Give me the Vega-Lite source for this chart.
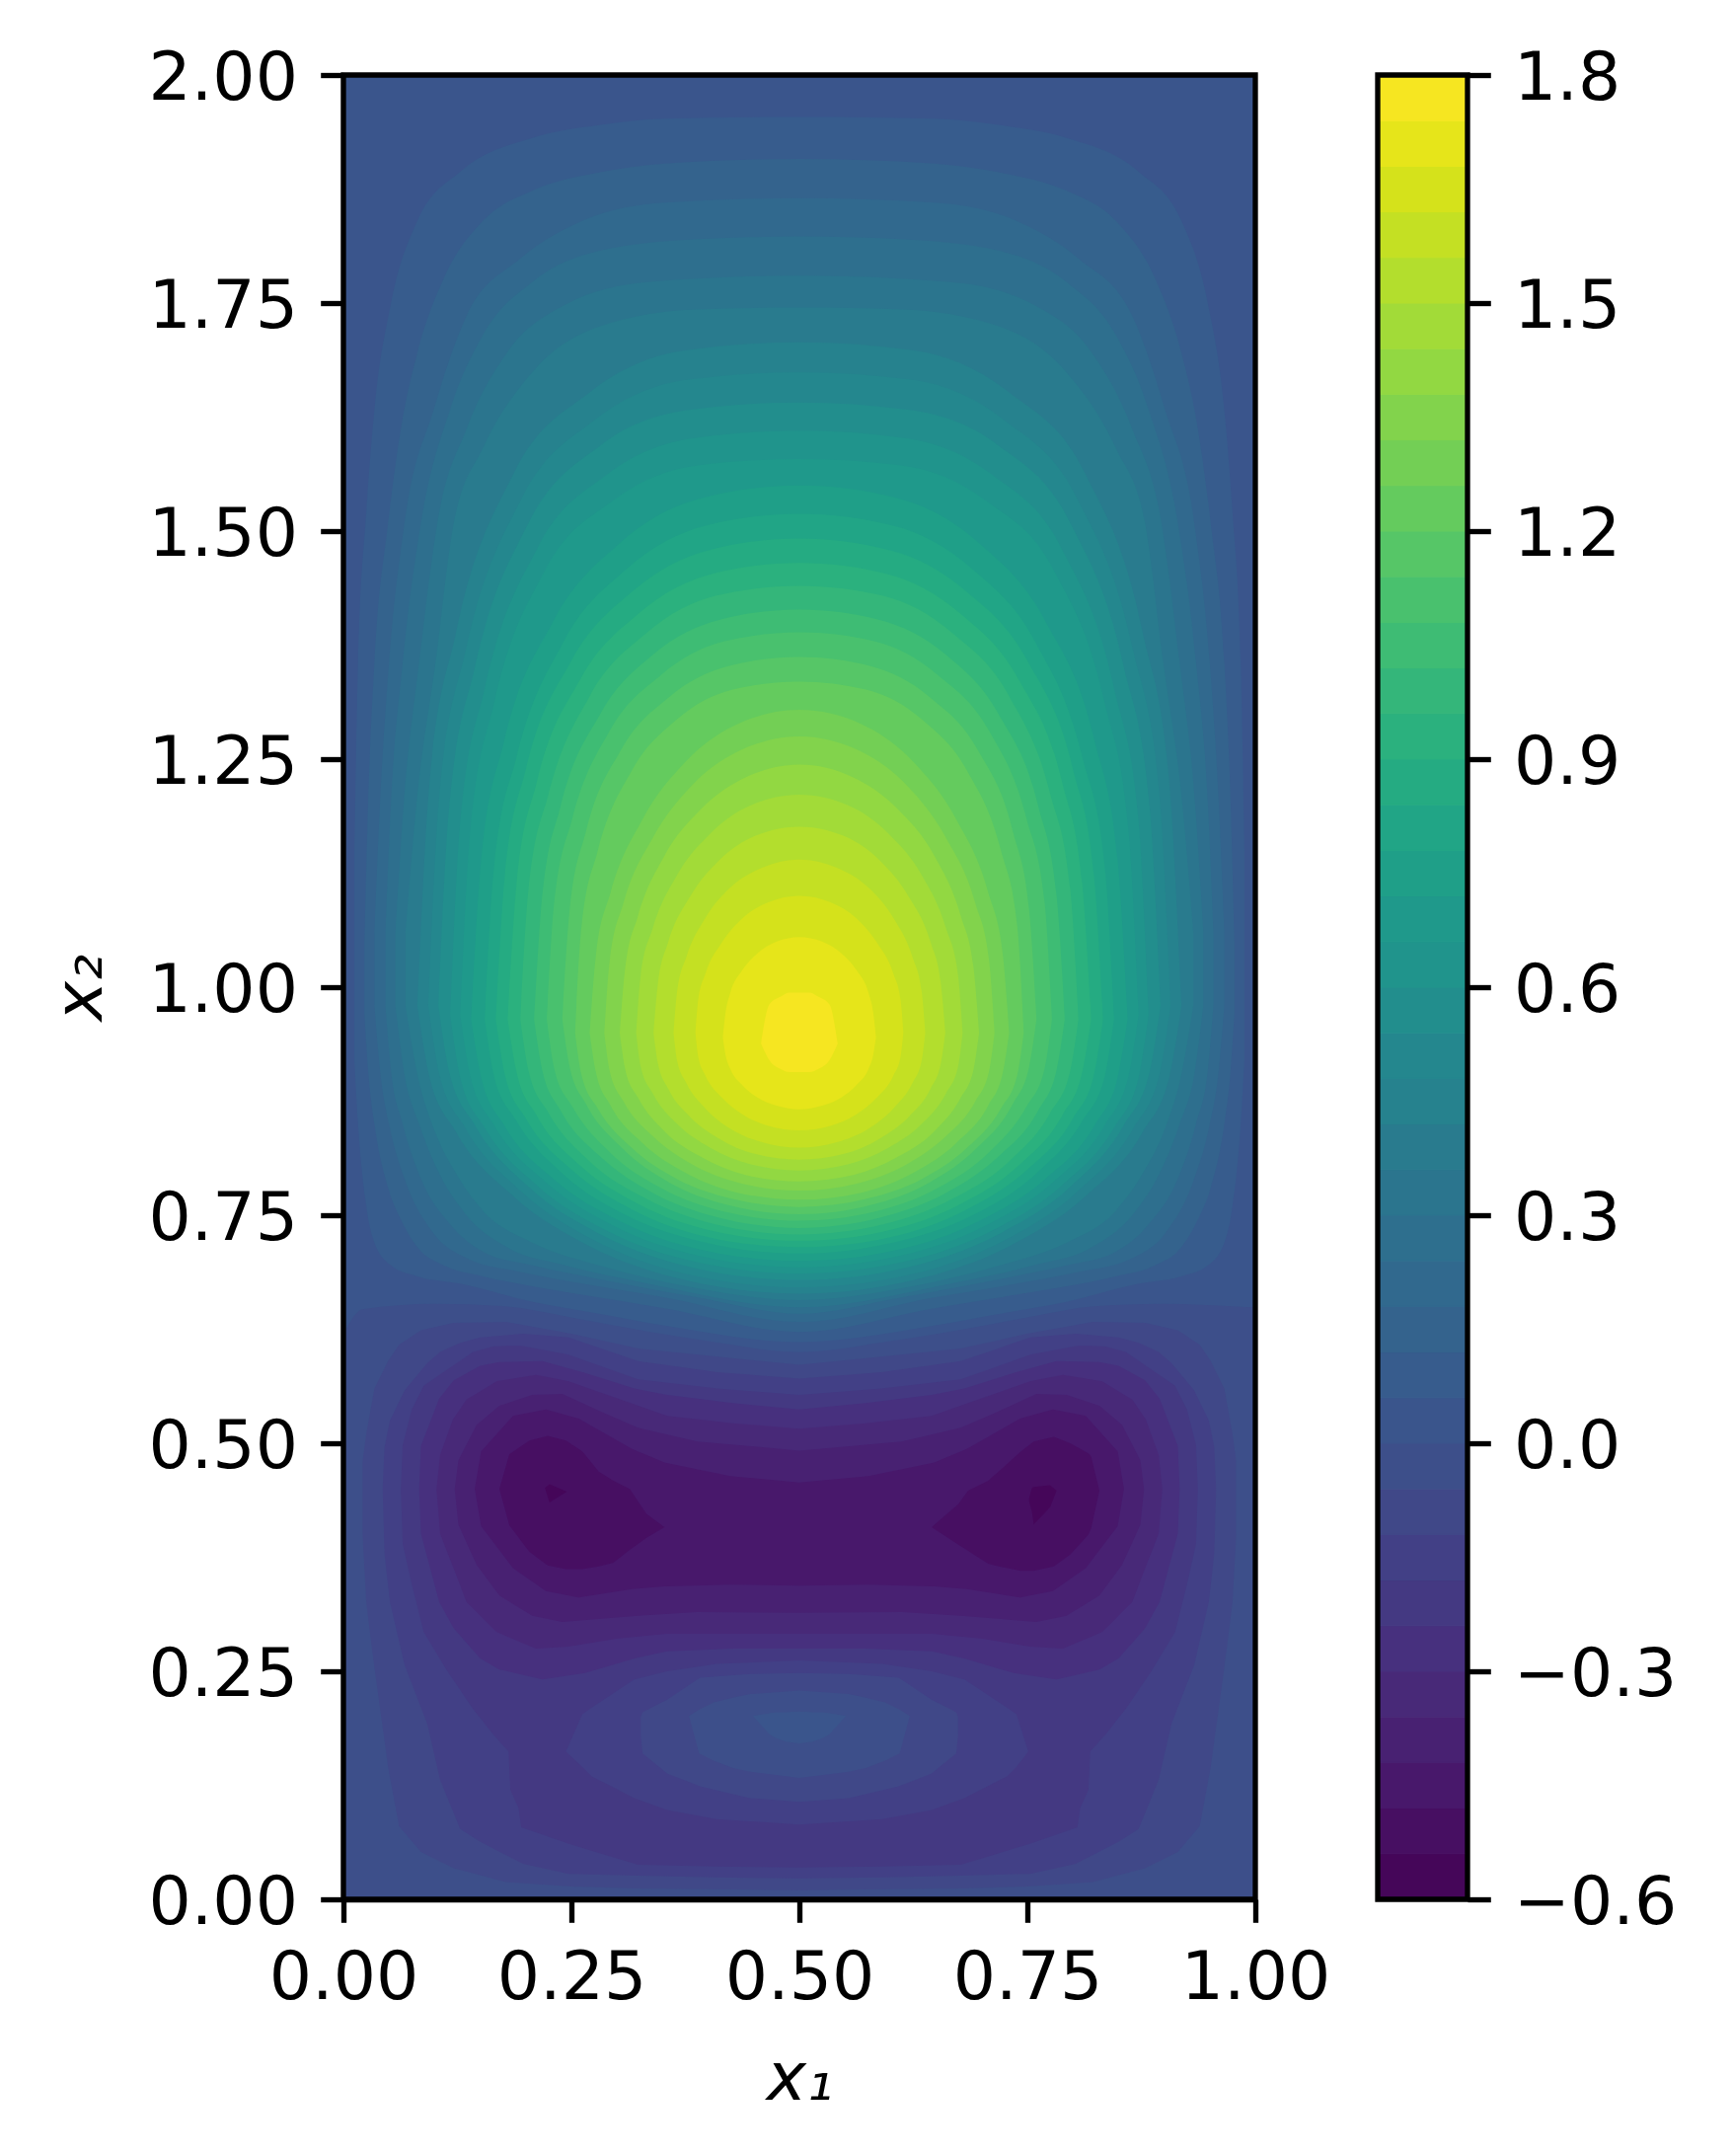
{"$schema":"https://vega.github.io/schema/vega-lite/v6.json","background":"white","padding":{"left":48,"top":46,"right":0,"bottom":40},"bounds":"flush","spacing":124,"config":{"view":{"stroke":null},"axis":{"labelFont":"DejaVu Sans","titleFont":"DejaVu Sans","labelFontSize":68,"titleFontSize":68,"titleFontWeight":"normal","titleFontStyle":"italic","labelColor":"black","titleColor":"black","domain":true,"domainColor":"black","domainWidth":5.33,"tickColor":"black","tickWidth":5.33,"tickSize":23.3,"labelPadding":23.3,"grid":false,"labelOverlap":false,"labelFlush":false,"labelBound":false}},"hconcat":[{"width":924,"height":1848,"layer":[{"data":{"values":[
{"g":0,"z":-0.03,"x":0,"y":0,"h":2},{"g":0,"z":-0.03,"x":1,"y":0,"h":2},
{"g":1,"z":0.03,"x":0,"y":0.62,"h":2},{"g":1,"z":0.03,"x":0.021,"y":0.647,"h":2},{"g":1,"z":0.03,"x":0.1,"y":0.653,"h":2},{"g":1,"z":0.03,"x":0.18,"y":0.65,"h":2},{"g":1,"z":0.03,"x":0.24,"y":0.64,"h":2},{"g":1,"z":0.03,"x":0.32,"y":0.625,"h":2},{"g":1,"z":0.03,"x":0.4,"y":0.612,"h":2},{"g":1,"z":0.03,"x":0.5,"y":0.6,"h":2},{"g":1,"z":0.03,"x":0.6,"y":0.612,"h":2},{"g":1,"z":0.03,"x":0.68,"y":0.625,"h":2},{"g":1,"z":0.03,"x":0.76,"y":0.64,"h":2},{"g":1,"z":0.03,"x":0.82,"y":0.65,"h":2},{"g":1,"z":0.03,"x":0.9,"y":0.653,"h":2},{"g":1,"z":0.03,"x":0.979,"y":0.65,"h":2},{"g":1,"z":0.03,"x":1,"y":0.649,"h":2},
{"g":2,"z":0.09,"x":0.012,"y":0.92,"h":1.15},{"g":2,"z":0.09,"x":0.016,"y":0.85,"h":1.356},{"g":2,"z":0.09,"x":0.025,"y":0.76,"h":1.52},{"g":2,"z":0.09,"x":0.034,"y":0.72,"h":1.633},{"g":2,"z":0.09,"x":0.052,"y":0.695,"h":1.749},{"g":2,"z":0.09,"x":0.081,"y":0.683,"h":1.84},{"g":2,"z":0.09,"x":0.128,"y":0.675,"h":1.894},{"g":2,"z":0.09,"x":0.207,"y":0.655,"h":1.931},{"g":2,"z":0.09,"x":0.28,"y":0.642,"h":1.945},{"g":2,"z":0.09,"x":0.352,"y":0.629,"h":1.952},{"g":2,"z":0.09,"x":0.5,"y":0.611,"h":1.954},{"g":2,"z":0.09,"x":0.648,"y":0.629,"h":1.952},{"g":2,"z":0.09,"x":0.72,"y":0.642,"h":1.945},{"g":2,"z":0.09,"x":0.793,"y":0.655,"h":1.931},{"g":2,"z":0.09,"x":0.872,"y":0.675,"h":1.894},{"g":2,"z":0.09,"x":0.919,"y":0.683,"h":1.84},{"g":2,"z":0.09,"x":0.948,"y":0.695,"h":1.749},{"g":2,"z":0.09,"x":0.966,"y":0.72,"h":1.633},{"g":2,"z":0.09,"x":0.975,"y":0.76,"h":1.52},{"g":2,"z":0.09,"x":0.984,"y":0.85,"h":1.356},{"g":2,"z":0.09,"x":0.988,"y":0.92,"h":1.15},
{"g":3,"z":0.15,"x":0.023,"y":0.97,"h":1.05},{"g":3,"z":0.15,"x":0.027,"y":0.91,"h":1.2},{"g":3,"z":0.15,"x":0.034,"y":0.85,"h":1.356},{"g":3,"z":0.15,"x":0.049,"y":0.78,"h":1.509},{"g":3,"z":0.15,"x":0.063,"y":0.745,"h":1.612},{"g":3,"z":0.15,"x":0.081,"y":0.715,"h":1.695},{"g":3,"z":0.15,"x":0.11,"y":0.695,"h":1.777},{"g":3,"z":0.15,"x":0.153,"y":0.683,"h":1.84},{"g":3,"z":0.15,"x":0.207,"y":0.672,"h":1.873},{"g":3,"z":0.15,"x":0.28,"y":0.66,"h":1.893},{"g":3,"z":0.15,"x":0.352,"y":0.648,"h":1.903},{"g":3,"z":0.15,"x":0.5,"y":0.622,"h":1.908},{"g":3,"z":0.15,"x":0.648,"y":0.648,"h":1.903},{"g":3,"z":0.15,"x":0.72,"y":0.66,"h":1.893},{"g":3,"z":0.15,"x":0.793,"y":0.672,"h":1.873},{"g":3,"z":0.15,"x":0.847,"y":0.683,"h":1.84},{"g":3,"z":0.15,"x":0.89,"y":0.695,"h":1.777},{"g":3,"z":0.15,"x":0.919,"y":0.715,"h":1.695},{"g":3,"z":0.15,"x":0.937,"y":0.745,"h":1.612},{"g":3,"z":0.15,"x":0.951,"y":0.78,"h":1.509},{"g":3,"z":0.15,"x":0.966,"y":0.85,"h":1.356},{"g":3,"z":0.15,"x":0.973,"y":0.91,"h":1.2},{"g":3,"z":0.15,"x":0.977,"y":0.97,"h":1.05},
{"g":4,"z":0.21,"x":0.034,"y":0.98,"h":1.06},{"g":4,"z":0.21,"x":0.04,"y":0.91,"h":1.2},{"g":4,"z":0.21,"x":0.05,"y":0.85,"h":1.356},{"g":4,"z":0.21,"x":0.067,"y":0.79,"h":1.509},{"g":4,"z":0.21,"x":0.099,"y":0.73,"h":1.633},{"g":4,"z":0.21,"x":0.135,"y":0.703,"h":1.736},{"g":4,"z":0.21,"x":0.193,"y":0.688,"h":1.798},{"g":4,"z":0.21,"x":0.262,"y":0.675,"h":1.84},{"g":4,"z":0.21,"x":0.352,"y":0.66,"h":1.86},{"g":4,"z":0.21,"x":0.5,"y":0.633,"h":1.865},{"g":4,"z":0.21,"x":0.648,"y":0.66,"h":1.86},{"g":4,"z":0.21,"x":0.738,"y":0.675,"h":1.84},{"g":4,"z":0.21,"x":0.807,"y":0.688,"h":1.798},{"g":4,"z":0.21,"x":0.865,"y":0.703,"h":1.736},{"g":4,"z":0.21,"x":0.901,"y":0.73,"h":1.633},{"g":4,"z":0.21,"x":0.933,"y":0.79,"h":1.509},{"g":4,"z":0.21,"x":0.95,"y":0.85,"h":1.356},{"g":4,"z":0.21,"x":0.96,"y":0.91,"h":1.2},{"g":4,"z":0.21,"x":0.966,"y":0.98,"h":1.06},
{"g":5,"z":0.27,"x":0.046,"y":0.98,"h":1.06},{"g":5,"z":0.27,"x":0.052,"y":0.91,"h":1.2},{"g":5,"z":0.27,"x":0.065,"y":0.85,"h":1.356},{"g":5,"z":0.27,"x":0.085,"y":0.79,"h":1.509},{"g":5,"z":0.27,"x":0.117,"y":0.74,"h":1.633},{"g":5,"z":0.27,"x":0.153,"y":0.71,"h":1.715},{"g":5,"z":0.27,"x":0.207,"y":0.695,"h":1.773},{"g":5,"z":0.27,"x":0.28,"y":0.68,"h":1.807},{"g":5,"z":0.27,"x":0.388,"y":0.66,"h":1.82},{"g":5,"z":0.27,"x":0.5,"y":0.642,"h":1.823},{"g":5,"z":0.27,"x":0.612,"y":0.66,"h":1.82},{"g":5,"z":0.27,"x":0.72,"y":0.68,"h":1.807},{"g":5,"z":0.27,"x":0.793,"y":0.695,"h":1.773},{"g":5,"z":0.27,"x":0.847,"y":0.71,"h":1.715},{"g":5,"z":0.27,"x":0.883,"y":0.74,"h":1.633},{"g":5,"z":0.27,"x":0.915,"y":0.79,"h":1.509},{"g":5,"z":0.27,"x":0.935,"y":0.85,"h":1.356},{"g":5,"z":0.27,"x":0.948,"y":0.91,"h":1.2},{"g":5,"z":0.27,"x":0.954,"y":0.98,"h":1.06},
{"g":6,"z":0.33,"x":0.057,"y":0.98,"h":1.06},{"g":6,"z":0.33,"x":0.066,"y":0.91,"h":1.2},{"g":6,"z":0.33,"x":0.083,"y":0.85,"h":1.356},{"g":6,"z":0.33,"x":0.103,"y":0.8,"h":1.509},{"g":6,"z":0.33,"x":0.135,"y":0.75,"h":1.612},{"g":6,"z":0.33,"x":0.179,"y":0.715,"h":1.695},{"g":6,"z":0.33,"x":0.243,"y":0.695,"h":1.748},{"g":6,"z":0.33,"x":0.334,"y":0.675,"h":1.773},{"g":6,"z":0.33,"x":0.5,"y":0.649,"h":1.78},{"g":6,"z":0.33,"x":0.666,"y":0.675,"h":1.773},{"g":6,"z":0.33,"x":0.757,"y":0.695,"h":1.748},{"g":6,"z":0.33,"x":0.821,"y":0.715,"h":1.695},{"g":6,"z":0.33,"x":0.865,"y":0.75,"h":1.612},{"g":6,"z":0.33,"x":0.897,"y":0.8,"h":1.509},{"g":6,"z":0.33,"x":0.917,"y":0.85,"h":1.356},{"g":6,"z":0.33,"x":0.934,"y":0.91,"h":1.2},{"g":6,"z":0.33,"x":0.943,"y":0.98,"h":1.06},
{"g":7,"z":0.39,"x":0.068,"y":0.98,"h":1.06},{"g":7,"z":0.39,"x":0.08,"y":0.91,"h":1.2},{"g":7,"z":0.39,"x":0.101,"y":0.84,"h":1.356},{"g":7,"z":0.39,"x":0.121,"y":0.8,"h":1.509},{"g":7,"z":0.39,"x":0.153,"y":0.755,"h":1.591},{"g":7,"z":0.39,"x":0.207,"y":0.72,"h":1.674},{"g":7,"z":0.39,"x":0.28,"y":0.695,"h":1.724},{"g":7,"z":0.39,"x":0.388,"y":0.67,"h":1.743},{"g":7,"z":0.39,"x":0.5,"y":0.657,"h":1.745},{"g":7,"z":0.39,"x":0.612,"y":0.67,"h":1.743},{"g":7,"z":0.39,"x":0.72,"y":0.695,"h":1.724},{"g":7,"z":0.39,"x":0.793,"y":0.72,"h":1.674},{"g":7,"z":0.39,"x":0.847,"y":0.755,"h":1.591},{"g":7,"z":0.39,"x":0.879,"y":0.8,"h":1.509},{"g":7,"z":0.39,"x":0.899,"y":0.84,"h":1.356},{"g":7,"z":0.39,"x":0.92,"y":0.91,"h":1.2},{"g":7,"z":0.39,"x":0.932,"y":0.98,"h":1.06},
{"g":8,"z":0.45,"x":0.081,"y":0.98,"h":0.98},{"g":8,"z":0.45,"x":0.094,"y":0.903,"h":1.22},{"g":8,"z":0.45,"x":0.123,"y":0.842,"h":1.387},{"g":8,"z":0.45,"x":0.186,"y":0.771,"h":1.562},{"g":8,"z":0.45,"x":0.27,"y":0.716,"h":1.652},{"g":8,"z":0.45,"x":0.374,"y":0.679,"h":1.698},{"g":8,"z":0.45,"x":0.5,"y":0.664,"h":1.707},{"g":8,"z":0.45,"x":0.626,"y":0.679,"h":1.698},{"g":8,"z":0.45,"x":0.73,"y":0.716,"h":1.652},{"g":8,"z":0.45,"x":0.814,"y":0.771,"h":1.562},{"g":8,"z":0.45,"x":0.877,"y":0.842,"h":1.387},{"g":8,"z":0.45,"x":0.906,"y":0.903,"h":1.22},{"g":8,"z":0.45,"x":0.919,"y":0.98,"h":0.98},
{"g":9,"z":0.51,"x":0.093,"y":0.98,"h":0.98},{"g":9,"z":0.51,"x":0.105,"y":0.905,"h":1.209},{"g":9,"z":0.51,"x":0.134,"y":0.845,"h":1.369},{"g":9,"z":0.51,"x":0.195,"y":0.776,"h":1.535},{"g":9,"z":0.51,"x":0.276,"y":0.722,"h":1.622},{"g":9,"z":0.51,"x":0.378,"y":0.685,"h":1.666},{"g":9,"z":0.51,"x":0.5,"y":0.671,"h":1.674},{"g":9,"z":0.51,"x":0.622,"y":0.685,"h":1.666},{"g":9,"z":0.51,"x":0.724,"y":0.722,"h":1.622},{"g":9,"z":0.51,"x":0.805,"y":0.776,"h":1.535},{"g":9,"z":0.51,"x":0.866,"y":0.845,"h":1.369},{"g":9,"z":0.51,"x":0.895,"y":0.905,"h":1.209},{"g":9,"z":0.51,"x":0.907,"y":0.98,"h":0.98},
{"g":10,"z":0.57,"x":0.104,"y":0.98,"h":0.98},{"g":10,"z":0.57,"x":0.116,"y":0.907,"h":1.198},{"g":10,"z":0.57,"x":0.144,"y":0.849,"h":1.35},{"g":10,"z":0.57,"x":0.203,"y":0.781,"h":1.509},{"g":10,"z":0.57,"x":0.282,"y":0.729,"h":1.594},{"g":10,"z":0.57,"x":0.381,"y":0.693,"h":1.633},{"g":10,"z":0.57,"x":0.5,"y":0.679,"h":1.641},{"g":10,"z":0.57,"x":0.619,"y":0.693,"h":1.633},{"g":10,"z":0.57,"x":0.718,"y":0.729,"h":1.594},{"g":10,"z":0.57,"x":0.797,"y":0.781,"h":1.509},{"g":10,"z":0.57,"x":0.856,"y":0.849,"h":1.35},{"g":10,"z":0.57,"x":0.884,"y":0.907,"h":1.198},{"g":10,"z":0.57,"x":0.896,"y":0.98,"h":0.98},
{"g":11,"z":0.63,"x":0.117,"y":0.97,"h":0.97},{"g":11,"z":0.63,"x":0.128,"y":0.901,"h":1.181},{"g":11,"z":0.63,"x":0.155,"y":0.846,"h":1.328},{"g":11,"z":0.63,"x":0.213,"y":0.782,"h":1.482},{"g":11,"z":0.63,"x":0.289,"y":0.733,"h":1.562},{"g":11,"z":0.63,"x":0.385,"y":0.699,"h":1.602},{"g":11,"z":0.63,"x":0.5,"y":0.686,"h":1.61},{"g":11,"z":0.63,"x":0.615,"y":0.699,"h":1.602},{"g":11,"z":0.63,"x":0.711,"y":0.733,"h":1.562},{"g":11,"z":0.63,"x":0.787,"y":0.782,"h":1.482},{"g":11,"z":0.63,"x":0.845,"y":0.846,"h":1.328},{"g":11,"z":0.63,"x":0.872,"y":0.901,"h":1.181},{"g":11,"z":0.63,"x":0.883,"y":0.97,"h":0.97},
{"g":12,"z":0.69,"x":0.128,"y":0.97,"h":0.97},{"g":12,"z":0.69,"x":0.139,"y":0.903,"h":1.171},{"g":12,"z":0.69,"x":0.165,"y":0.849,"h":1.311},{"g":12,"z":0.69,"x":0.221,"y":0.787,"h":1.457},{"g":12,"z":0.69,"x":0.295,"y":0.739,"h":1.533},{"g":12,"z":0.69,"x":0.388,"y":0.706,"h":1.572},{"g":12,"z":0.69,"x":0.5,"y":0.693,"h":1.579},{"g":12,"z":0.69,"x":0.612,"y":0.706,"h":1.572},{"g":12,"z":0.69,"x":0.705,"y":0.739,"h":1.533},{"g":12,"z":0.69,"x":0.779,"y":0.787,"h":1.457},{"g":12,"z":0.69,"x":0.835,"y":0.849,"h":1.311},{"g":12,"z":0.69,"x":0.861,"y":0.903,"h":1.171},{"g":12,"z":0.69,"x":0.872,"y":0.97,"h":0.97},
{"g":13,"z":0.75,"x":0.14,"y":0.965,"h":0.965},{"g":13,"z":0.75,"x":0.151,"y":0.901,"h":1.14},{"g":13,"z":0.75,"x":0.176,"y":0.849,"h":1.269},{"g":13,"z":0.75,"x":0.23,"y":0.79,"h":1.401},{"g":13,"z":0.75,"x":0.302,"y":0.744,"h":1.486},{"g":13,"z":0.75,"x":0.392,"y":0.712,"h":1.536},{"g":13,"z":0.75,"x":0.5,"y":0.7,"h":1.55},{"g":13,"z":0.75,"x":0.608,"y":0.712,"h":1.536},{"g":13,"z":0.75,"x":0.698,"y":0.744,"h":1.486},{"g":13,"z":0.75,"x":0.77,"y":0.79,"h":1.401},{"g":13,"z":0.75,"x":0.824,"y":0.849,"h":1.269},{"g":13,"z":0.75,"x":0.849,"y":0.901,"h":1.14},{"g":13,"z":0.75,"x":0.86,"y":0.965,"h":0.965},
{"g":14,"z":0.81,"x":0.155,"y":0.965,"h":0.965},{"g":14,"z":0.81,"x":0.165,"y":0.903,"h":1.131},{"g":14,"z":0.81,"x":0.19,"y":0.853,"h":1.253},{"g":14,"z":0.81,"x":0.241,"y":0.795,"h":1.378},{"g":14,"z":0.81,"x":0.31,"y":0.75,"h":1.458},{"g":14,"z":0.81,"x":0.397,"y":0.72,"h":1.506},{"g":14,"z":0.81,"x":0.5,"y":0.708,"h":1.519},{"g":14,"z":0.81,"x":0.603,"y":0.72,"h":1.506},{"g":14,"z":0.81,"x":0.69,"y":0.75,"h":1.458},{"g":14,"z":0.81,"x":0.759,"y":0.795,"h":1.378},{"g":14,"z":0.81,"x":0.81,"y":0.853,"h":1.253},{"g":14,"z":0.81,"x":0.835,"y":0.903,"h":1.131},{"g":14,"z":0.81,"x":0.845,"y":0.965,"h":0.965},
{"g":15,"z":0.87,"x":0.167,"y":0.965,"h":0.965},{"g":15,"z":0.87,"x":0.177,"y":0.904,"h":1.123},{"g":15,"z":0.87,"x":0.2,"y":0.856,"h":1.239},{"g":15,"z":0.87,"x":0.25,"y":0.8,"h":1.358},{"g":15,"z":0.87,"x":0.317,"y":0.756,"h":1.434},{"g":15,"z":0.87,"x":0.4,"y":0.726,"h":1.479},{"g":15,"z":0.87,"x":0.5,"y":0.715,"h":1.492},{"g":15,"z":0.87,"x":0.6,"y":0.726,"h":1.479},{"g":15,"z":0.87,"x":0.683,"y":0.756,"h":1.434},{"g":15,"z":0.87,"x":0.75,"y":0.8,"h":1.358},{"g":15,"z":0.87,"x":0.8,"y":0.856,"h":1.239},{"g":15,"z":0.87,"x":0.823,"y":0.904,"h":1.123},{"g":15,"z":0.87,"x":0.833,"y":0.965,"h":0.965},
{"g":16,"z":0.93,"x":0.18,"y":0.965,"h":0.965},{"g":16,"z":0.93,"x":0.19,"y":0.906,"h":1.115},{"g":16,"z":0.93,"x":0.212,"y":0.859,"h":1.225},{"g":16,"z":0.93,"x":0.26,"y":0.804,"h":1.338},{"g":16,"z":0.93,"x":0.324,"y":0.762,"h":1.41},{"g":16,"z":0.93,"x":0.404,"y":0.733,"h":1.453},{"g":16,"z":0.93,"x":0.5,"y":0.722,"h":1.465},{"g":16,"z":0.93,"x":0.596,"y":0.733,"h":1.453},{"g":16,"z":0.93,"x":0.676,"y":0.762,"h":1.41},{"g":16,"z":0.93,"x":0.74,"y":0.804,"h":1.338},{"g":16,"z":0.93,"x":0.788,"y":0.859,"h":1.225},{"g":16,"z":0.93,"x":0.81,"y":0.906,"h":1.115},{"g":16,"z":0.93,"x":0.82,"y":0.965,"h":0.965},
{"g":17,"z":0.99,"x":0.194,"y":0.965,"h":0.965},{"g":17,"z":0.99,"x":0.203,"y":0.908,"h":1.108},{"g":17,"z":0.99,"x":0.225,"y":0.862,"h":1.212},{"g":17,"z":0.99,"x":0.27,"y":0.809,"h":1.319},{"g":17,"z":0.99,"x":0.332,"y":0.768,"h":1.388},{"g":17,"z":0.99,"x":0.408,"y":0.74,"h":1.429},{"g":17,"z":0.99,"x":0.5,"y":0.729,"h":1.44},{"g":17,"z":0.99,"x":0.592,"y":0.74,"h":1.429},{"g":17,"z":0.99,"x":0.668,"y":0.768,"h":1.388},{"g":17,"z":0.99,"x":0.73,"y":0.809,"h":1.319},{"g":17,"z":0.99,"x":0.775,"y":0.862,"h":1.212},{"g":17,"z":0.99,"x":0.797,"y":0.908,"h":1.108},{"g":17,"z":0.99,"x":0.806,"y":0.965,"h":0.965},
{"g":18,"z":1.05,"x":0.209,"y":0.965,"h":0.965},{"g":18,"z":1.05,"x":0.218,"y":0.909,"h":1.1},{"g":18,"z":1.05,"x":0.238,"y":0.865,"h":1.198},{"g":18,"z":1.05,"x":0.282,"y":0.814,"h":1.3},{"g":18,"z":1.05,"x":0.34,"y":0.774,"h":1.365},{"g":18,"z":1.05,"x":0.413,"y":0.747,"h":1.403},{"g":18,"z":1.05,"x":0.5,"y":0.736,"h":1.414},{"g":18,"z":1.05,"x":0.587,"y":0.747,"h":1.403},{"g":18,"z":1.05,"x":0.66,"y":0.774,"h":1.365},{"g":18,"z":1.05,"x":0.718,"y":0.814,"h":1.3},{"g":18,"z":1.05,"x":0.762,"y":0.865,"h":1.198},{"g":18,"z":1.05,"x":0.782,"y":0.909,"h":1.1},{"g":18,"z":1.05,"x":0.791,"y":0.965,"h":0.965},
{"g":19,"z":1.11,"x":0.223,"y":0.965,"h":0.965},{"g":19,"z":1.11,"x":0.231,"y":0.911,"h":1.092},{"g":19,"z":1.11,"x":0.251,"y":0.869,"h":1.185},{"g":19,"z":1.11,"x":0.292,"y":0.819,"h":1.281},{"g":19,"z":1.11,"x":0.348,"y":0.78,"h":1.342},{"g":19,"z":1.11,"x":0.417,"y":0.754,"h":1.379},{"g":19,"z":1.11,"x":0.5,"y":0.744,"h":1.389},{"g":19,"z":1.11,"x":0.583,"y":0.754,"h":1.379},{"g":19,"z":1.11,"x":0.652,"y":0.78,"h":1.342},{"g":19,"z":1.11,"x":0.708,"y":0.819,"h":1.281},{"g":19,"z":1.11,"x":0.749,"y":0.869,"h":1.185},{"g":19,"z":1.11,"x":0.769,"y":0.911,"h":1.092},{"g":19,"z":1.11,"x":0.777,"y":0.965,"h":0.965},
{"g":20,"z":1.17,"x":0.24,"y":0.965,"h":0.965},{"g":20,"z":1.17,"x":0.248,"y":0.913,"h":1.084},{"g":20,"z":1.17,"x":0.266,"y":0.872,"h":1.171},{"g":20,"z":1.17,"x":0.305,"y":0.824,"h":1.261},{"g":20,"z":1.17,"x":0.357,"y":0.786,"h":1.318},{"g":20,"z":1.17,"x":0.422,"y":0.761,"h":1.352},{"g":20,"z":1.17,"x":0.5,"y":0.751,"h":1.362},{"g":20,"z":1.17,"x":0.578,"y":0.761,"h":1.352},{"g":20,"z":1.17,"x":0.643,"y":0.786,"h":1.318},{"g":20,"z":1.17,"x":0.695,"y":0.824,"h":1.261},{"g":20,"z":1.17,"x":0.734,"y":0.872,"h":1.171},{"g":20,"z":1.17,"x":0.752,"y":0.913,"h":1.084},{"g":20,"z":1.17,"x":0.76,"y":0.965,"h":0.965},
{"g":21,"z":1.23,"x":0.254,"y":0.95,"h":0.95},{"g":21,"z":1.23,"x":0.261,"y":0.904,"h":1.066},{"g":21,"z":1.23,"x":0.279,"y":0.867,"h":1.15},{"g":21,"z":1.23,"x":0.316,"y":0.824,"h":1.237},{"g":21,"z":1.23,"x":0.365,"y":0.79,"h":1.293},{"g":21,"z":1.23,"x":0.426,"y":0.768,"h":1.326},{"g":21,"z":1.23,"x":0.5,"y":0.759,"h":1.335},{"g":21,"z":1.23,"x":0.574,"y":0.768,"h":1.326},{"g":21,"z":1.23,"x":0.635,"y":0.79,"h":1.293},{"g":21,"z":1.23,"x":0.684,"y":0.824,"h":1.237},{"g":21,"z":1.23,"x":0.721,"y":0.867,"h":1.15},{"g":21,"z":1.23,"x":0.739,"y":0.904,"h":1.066},{"g":21,"z":1.23,"x":0.746,"y":0.95,"h":0.95},
{"g":22,"z":1.29,"x":0.27,"y":0.95,"h":0.95},{"g":22,"z":1.29,"x":0.277,"y":0.906,"h":1.036},{"g":22,"z":1.29,"x":0.293,"y":0.87,"h":1.104},{"g":22,"z":1.29,"x":0.328,"y":0.829,"h":1.184},{"g":22,"z":1.29,"x":0.374,"y":0.797,"h":1.246},{"g":22,"z":1.29,"x":0.431,"y":0.775,"h":1.288},{"g":22,"z":1.29,"x":0.5,"y":0.767,"h":1.304},{"g":22,"z":1.29,"x":0.569,"y":0.775,"h":1.288},{"g":22,"z":1.29,"x":0.626,"y":0.797,"h":1.246},{"g":22,"z":1.29,"x":0.672,"y":0.829,"h":1.184},{"g":22,"z":1.29,"x":0.707,"y":0.87,"h":1.104},{"g":22,"z":1.29,"x":0.723,"y":0.906,"h":1.036},{"g":22,"z":1.29,"x":0.73,"y":0.95,"h":0.95},
{"g":23,"z":1.35,"x":0.286,"y":0.95,"h":0.95},{"g":23,"z":1.35,"x":0.292,"y":0.908,"h":1.029},{"g":23,"z":1.35,"x":0.307,"y":0.875,"h":1.092},{"g":23,"z":1.35,"x":0.34,"y":0.836,"h":1.165},{"g":23,"z":1.35,"x":0.382,"y":0.806,"h":1.221},{"g":23,"z":1.35,"x":0.436,"y":0.785,"h":1.26},{"g":23,"z":1.35,"x":0.5,"y":0.777,"h":1.275},{"g":23,"z":1.35,"x":0.564,"y":0.785,"h":1.26},{"g":23,"z":1.35,"x":0.618,"y":0.806,"h":1.221},{"g":23,"z":1.35,"x":0.66,"y":0.836,"h":1.165},{"g":23,"z":1.35,"x":0.693,"y":0.875,"h":1.092},{"g":23,"z":1.35,"x":0.708,"y":0.908,"h":1.029},{"g":23,"z":1.35,"x":0.714,"y":0.95,"h":0.95},
{"g":24,"z":1.41,"x":0.303,"y":0.95,"h":0.95},{"g":24,"z":1.41,"x":0.309,"y":0.91,"h":1.021},{"g":24,"z":1.41,"x":0.323,"y":0.879,"h":1.078},{"g":24,"z":1.41,"x":0.352,"y":0.842,"h":1.144},{"g":24,"z":1.41,"x":0.392,"y":0.814,"h":1.195},{"g":24,"z":1.41,"x":0.441,"y":0.794,"h":1.23},{"g":24,"z":1.41,"x":0.5,"y":0.787,"h":1.244},{"g":24,"z":1.41,"x":0.559,"y":0.794,"h":1.23},{"g":24,"z":1.41,"x":0.608,"y":0.814,"h":1.195},{"g":24,"z":1.41,"x":0.648,"y":0.842,"h":1.144},{"g":24,"z":1.41,"x":0.677,"y":0.879,"h":1.078},{"g":24,"z":1.41,"x":0.691,"y":0.91,"h":1.021},{"g":24,"z":1.41,"x":0.697,"y":0.95,"h":0.95},
{"g":25,"z":1.47,"x":0.321,"y":0.95,"h":0.95},{"g":25,"z":1.47,"x":0.326,"y":0.913,"h":1.013},{"g":25,"z":1.47,"x":0.339,"y":0.884,"h":1.064},{"g":25,"z":1.47,"x":0.366,"y":0.85,"h":1.123},{"g":25,"z":1.47,"x":0.402,"y":0.824,"h":1.168},{"g":25,"z":1.47,"x":0.446,"y":0.806,"h":1.199},{"g":25,"z":1.47,"x":0.5,"y":0.799,"h":1.211},{"g":25,"z":1.47,"x":0.554,"y":0.806,"h":1.199},{"g":25,"z":1.47,"x":0.598,"y":0.824,"h":1.168},{"g":25,"z":1.47,"x":0.634,"y":0.85,"h":1.123},{"g":25,"z":1.47,"x":0.661,"y":0.884,"h":1.064},{"g":25,"z":1.47,"x":0.674,"y":0.913,"h":1.013},{"g":25,"z":1.47,"x":0.679,"y":0.95,"h":0.95},
{"g":26,"z":1.53,"x":0.34,"y":0.95,"h":0.95},{"g":26,"z":1.53,"x":0.345,"y":0.916,"h":1.005},{"g":26,"z":1.53,"x":0.356,"y":0.889,"h":1.049},{"g":26,"z":1.53,"x":0.38,"y":0.858,"h":1.099},{"g":26,"z":1.53,"x":0.412,"y":0.834,"h":1.139},{"g":26,"z":1.53,"x":0.452,"y":0.817,"h":1.166},{"g":26,"z":1.53,"x":0.5,"y":0.811,"h":1.176},{"g":26,"z":1.53,"x":0.548,"y":0.817,"h":1.166},{"g":26,"z":1.53,"x":0.588,"y":0.834,"h":1.139},{"g":26,"z":1.53,"x":0.62,"y":0.858,"h":1.099},{"g":26,"z":1.53,"x":0.644,"y":0.889,"h":1.049},{"g":26,"z":1.53,"x":0.655,"y":0.916,"h":1.005},{"g":26,"z":1.53,"x":0.66,"y":0.95,"h":0.95},
{"g":27,"z":1.59,"x":0.362,"y":0.95,"h":0.95},{"g":27,"z":1.59,"x":0.366,"y":0.919,"h":0.996},{"g":27,"z":1.59,"x":0.376,"y":0.895,"h":1.033},{"g":27,"z":1.59,"x":0.397,"y":0.867,"h":1.076},{"g":27,"z":1.59,"x":0.424,"y":0.845,"h":1.109},{"g":27,"z":1.59,"x":0.459,"y":0.83,"h":1.131},{"g":27,"z":1.59,"x":0.5,"y":0.824,"h":1.14},{"g":27,"z":1.59,"x":0.541,"y":0.83,"h":1.131},{"g":27,"z":1.59,"x":0.576,"y":0.845,"h":1.109},{"g":27,"z":1.59,"x":0.603,"y":0.867,"h":1.076},{"g":27,"z":1.59,"x":0.624,"y":0.895,"h":1.033},{"g":27,"z":1.59,"x":0.634,"y":0.919,"h":0.996},{"g":27,"z":1.59,"x":0.638,"y":0.95,"h":0.95},
{"g":28,"z":1.65,"x":0.386,"y":0.95,"h":0.95},{"g":28,"z":1.65,"x":0.389,"y":0.924,"h":0.986},{"g":28,"z":1.65,"x":0.397,"y":0.903,"h":1.015},{"g":28,"z":1.65,"x":0.415,"y":0.879,"h":1.049},{"g":28,"z":1.65,"x":0.437,"y":0.861,"h":1.075},{"g":28,"z":1.65,"x":0.466,"y":0.848,"h":1.093},{"g":28,"z":1.65,"x":0.5,"y":0.843,"h":1.1},{"g":28,"z":1.65,"x":0.534,"y":0.848,"h":1.093},{"g":28,"z":1.65,"x":0.563,"y":0.861,"h":1.075},{"g":28,"z":1.65,"x":0.585,"y":0.879,"h":1.049},{"g":28,"z":1.65,"x":0.603,"y":0.903,"h":1.015},{"g":28,"z":1.65,"x":0.611,"y":0.924,"h":0.986},{"g":28,"z":1.65,"x":0.614,"y":0.95,"h":0.95},
{"g":29,"z":1.71,"x":0.416,"y":0.945,"h":0.945},{"g":29,"z":1.71,"x":0.419,"y":0.926,"h":0.972},{"g":29,"z":1.71,"x":0.424,"y":0.911,"h":0.993},{"g":29,"z":1.71,"x":0.437,"y":0.893,"h":1.018},{"g":29,"z":1.71,"x":0.454,"y":0.879,"h":1.037},{"g":29,"z":1.71,"x":0.475,"y":0.87,"h":1.05},{"g":29,"z":1.71,"x":0.5,"y":0.866,"h":1.055},{"g":29,"z":1.71,"x":0.525,"y":0.87,"h":1.05},{"g":29,"z":1.71,"x":0.546,"y":0.879,"h":1.037},{"g":29,"z":1.71,"x":0.563,"y":0.893,"h":1.018},{"g":29,"z":1.71,"x":0.576,"y":0.911,"h":0.993},{"g":29,"z":1.71,"x":0.581,"y":0.926,"h":0.972},{"g":29,"z":1.71,"x":0.584,"y":0.945,"h":0.945},
{"g":30,"z":1.77,"x":0.458,"y":0.938,"h":0.938},{"g":30,"z":1.77,"x":0.467,"y":0.92,"h":0.981},{"g":30,"z":1.77,"x":0.48,"y":0.91,"h":0.99},{"g":30,"z":1.77,"x":0.489,"y":0.907,"h":0.994},{"g":30,"z":1.77,"x":0.511,"y":0.907,"h":0.994},{"g":30,"z":1.77,"x":0.52,"y":0.91,"h":0.99},{"g":30,"z":1.77,"x":0.533,"y":0.92,"h":0.981},{"g":30,"z":1.77,"x":0.542,"y":0.938,"h":0.938}
]},"mark":{"type":"area","interpolate":"monotone"},"encoding":{"x":{"field":"x","type":"quantitative","scale":{"domain":[0,1],"nice":false,"zero":false},"axis":{"values":[0,0.25,0.5,0.75,1],"format":".2f","title":"x₁","titlePadding":34}},"y":{"field":"y","type":"quantitative","stack":null,"scale":{"domain":[0,2],"nice":false,"zero":false},"axis":{"values":[0,0.25,0.5,0.75,1,1.25,1.5,1.75,2],"format":".2f","title":"x₂","titlePadding":33,"labelOffset":4}},"y2":{"field":"h"},"detail":{"field":"g","type":"nominal"},"color":{"field":"z","type":"quantitative","scale":{"scheme":"viridis","domain":[-0.6,1.8]},"legend":null}}},
{"data":{"values":[
{"g":1,"z":-0.09,"x":0.021,"y":0.4,"h":0.48},{"g":1,"z":-0.09,"x":0.025,"y":0.326,"h":0.51},{"g":1,"z":-0.09,"x":0.034,"y":0.254,"h":0.56},{"g":1,"z":-0.09,"x":0.049,"y":0.145,"h":0.59},{"g":1,"z":-0.09,"x":0.061,"y":0.08,"h":0.608},{"g":1,"z":-0.09,"x":0.085,"y":0.052,"h":0.624},{"g":1,"z":-0.09,"x":0.121,"y":0.034,"h":0.632},{"g":1,"z":-0.09,"x":0.178,"y":0.019,"h":0.633},{"g":1,"z":-0.09,"x":0.25,"y":0.014,"h":0.62},{"g":1,"z":-0.09,"x":0.323,"y":0.012,"h":0.604},{"g":1,"z":-0.09,"x":0.41,"y":0.011,"h":0.595},{"g":1,"z":-0.09,"x":0.5,"y":0.01,"h":0.586},{"g":1,"z":-0.09,"x":0.59,"y":0.011,"h":0.595},{"g":1,"z":-0.09,"x":0.677,"y":0.012,"h":0.604},{"g":1,"z":-0.09,"x":0.75,"y":0.014,"h":0.62},{"g":1,"z":-0.09,"x":0.822,"y":0.019,"h":0.633},{"g":1,"z":-0.09,"x":0.879,"y":0.034,"h":0.632},{"g":1,"z":-0.09,"x":0.915,"y":0.052,"h":0.624},{"g":1,"z":-0.09,"x":0.939,"y":0.08,"h":0.608},{"g":1,"z":-0.09,"x":0.951,"y":0.145,"h":0.59},{"g":1,"z":-0.09,"x":0.966,"y":0.254,"h":0.56},{"g":1,"z":-0.09,"x":0.975,"y":0.326,"h":0.51},{"g":1,"z":-0.09,"x":0.979,"y":0.4,"h":0.48},
{"g":2,"z":-0.15,"x":0.043,"y":0.45,"h":0.45},{"g":2,"z":-0.15,"x":0.045,"y":0.38,"h":0.495},{"g":2,"z":-0.15,"x":0.051,"y":0.326,"h":0.525},{"g":2,"z":-0.15,"x":0.067,"y":0.257,"h":0.558},{"g":2,"z":-0.15,"x":0.092,"y":0.192,"h":0.588},{"g":2,"z":-0.15,"x":0.106,"y":0.131,"h":0.6},{"g":2,"z":-0.15,"x":0.128,"y":0.077,"h":0.61},{"g":2,"z":-0.15,"x":0.15,"y":0.063,"h":0.616},{"g":2,"z":-0.15,"x":0.197,"y":0.039,"h":0.62},{"g":2,"z":-0.15,"x":0.247,"y":0.028,"h":0.616},{"g":2,"z":-0.15,"x":0.323,"y":0.026,"h":0.59},{"g":2,"z":-0.15,"x":0.41,"y":0.024,"h":0.578},{"g":2,"z":-0.15,"x":0.5,"y":0.023,"h":0.571},{"g":2,"z":-0.15,"x":0.59,"y":0.024,"h":0.578},{"g":2,"z":-0.15,"x":0.677,"y":0.026,"h":0.59},{"g":2,"z":-0.15,"x":0.753,"y":0.028,"h":0.616},{"g":2,"z":-0.15,"x":0.803,"y":0.039,"h":0.62},{"g":2,"z":-0.15,"x":0.85,"y":0.063,"h":0.616},{"g":2,"z":-0.15,"x":0.872,"y":0.077,"h":0.61},{"g":2,"z":-0.15,"x":0.894,"y":0.131,"h":0.6},{"g":2,"z":-0.15,"x":0.908,"y":0.192,"h":0.588},{"g":2,"z":-0.15,"x":0.933,"y":0.257,"h":0.558},{"g":2,"z":-0.15,"x":0.949,"y":0.326,"h":0.525},{"g":2,"z":-0.15,"x":0.955,"y":0.38,"h":0.495},{"g":2,"z":-0.15,"x":0.957,"y":0.45,"h":0.45},
{"g":3,"z":-0.21,"x":0.063,"y":0.45,"h":0.45},{"g":3,"z":-0.21,"x":0.065,"y":0.39,"h":0.498},{"g":3,"z":-0.21,"x":0.075,"y":0.345,"h":0.537},{"g":3,"z":-0.21,"x":0.088,"y":0.293,"h":0.563},{"g":3,"z":-0.21,"x":0.114,"y":0.25,"h":0.581},{"g":3,"z":-0.21,"x":0.142,"y":0.209,"h":0.6},{"g":3,"z":-0.21,"x":0.164,"y":0.181,"h":0.606},{"g":3,"z":-0.21,"x":0.181,"y":0.162,"h":0.607},{"g":3,"z":-0.21,"x":0.183,"y":0.12,"h":0.607},{"g":3,"z":-0.21,"x":0.192,"y":0.1,"h":0.607},{"g":3,"z":-0.21,"x":0.195,"y":0.079,"h":0.607},{"g":3,"z":-0.21,"x":0.247,"y":0.061,"h":0.597},{"g":3,"z":-0.21,"x":0.323,"y":0.038,"h":0.57},{"g":3,"z":-0.21,"x":0.41,"y":0.036,"h":0.56},{"g":3,"z":-0.21,"x":0.5,"y":0.035,"h":0.553},{"g":3,"z":-0.21,"x":0.59,"y":0.036,"h":0.56},{"g":3,"z":-0.21,"x":0.677,"y":0.038,"h":0.57},{"g":3,"z":-0.21,"x":0.753,"y":0.061,"h":0.597},{"g":3,"z":-0.21,"x":0.805,"y":0.079,"h":0.607},{"g":3,"z":-0.21,"x":0.808,"y":0.1,"h":0.607},{"g":3,"z":-0.21,"x":0.817,"y":0.12,"h":0.607},{"g":3,"z":-0.21,"x":0.819,"y":0.162,"h":0.607},{"g":3,"z":-0.21,"x":0.836,"y":0.181,"h":0.606},{"g":3,"z":-0.21,"x":0.858,"y":0.209,"h":0.6},{"g":3,"z":-0.21,"x":0.886,"y":0.25,"h":0.581},{"g":3,"z":-0.21,"x":0.912,"y":0.293,"h":0.563},{"g":3,"z":-0.21,"x":0.925,"y":0.345,"h":0.537},{"g":3,"z":-0.21,"x":0.935,"y":0.39,"h":0.498},{"g":3,"z":-0.21,"x":0.937,"y":0.45,"h":0.45},
{"g":4,"z":-0.27,"x":0.083,"y":0.45,"h":0.45},{"g":4,"z":-0.27,"x":0.085,"y":0.401,"h":0.497},{"g":4,"z":-0.27,"x":0.105,"y":0.326,"h":0.549},{"g":4,"z":-0.27,"x":0.121,"y":0.297,"h":0.569},{"g":4,"z":-0.27,"x":0.15,"y":0.264,"h":0.585},{"g":4,"z":-0.27,"x":0.171,"y":0.252,"h":0.589},{"g":4,"z":-0.27,"x":0.218,"y":0.241,"h":0.59},{"g":4,"z":-0.27,"x":0.265,"y":0.248,"h":0.577},{"g":4,"z":-0.27,"x":0.319,"y":0.264,"h":0.56},{"g":4,"z":-0.27,"x":0.355,"y":0.272,"h":0.553},{"g":4,"z":-0.27,"x":0.427,"y":0.275,"h":0.544},{"g":4,"z":-0.27,"x":0.5,"y":0.275,"h":0.537},{"g":4,"z":-0.27,"x":0.573,"y":0.275,"h":0.544},{"g":4,"z":-0.27,"x":0.645,"y":0.272,"h":0.553},{"g":4,"z":-0.27,"x":0.681,"y":0.264,"h":0.56},{"g":4,"z":-0.27,"x":0.735,"y":0.248,"h":0.577},{"g":4,"z":-0.27,"x":0.782,"y":0.241,"h":0.59},{"g":4,"z":-0.27,"x":0.829,"y":0.252,"h":0.589},{"g":4,"z":-0.27,"x":0.85,"y":0.264,"h":0.585},{"g":4,"z":-0.27,"x":0.879,"y":0.297,"h":0.569},{"g":4,"z":-0.27,"x":0.895,"y":0.326,"h":0.549},{"g":4,"z":-0.27,"x":0.915,"y":0.401,"h":0.497},{"g":4,"z":-0.27,"x":0.917,"y":0.45,"h":0.45},
{"g":5,"z":-0.33,"x":0.102,"y":0.45,"h":0.45},{"g":5,"z":-0.33,"x":0.106,"y":0.401,"h":0.487},{"g":5,"z":-0.33,"x":0.12,"y":0.365,"h":0.526},{"g":5,"z":-0.33,"x":0.135,"y":0.326,"h":0.548},{"g":5,"z":-0.33,"x":0.168,"y":0.293,"h":0.568},{"g":5,"z":-0.33,"x":0.211,"y":0.275,"h":0.575},{"g":5,"z":-0.33,"x":0.247,"y":0.277,"h":0.568},{"g":5,"z":-0.33,"x":0.301,"y":0.286,"h":0.549},{"g":5,"z":-0.33,"x":0.355,"y":0.291,"h":0.53},{"g":5,"z":-0.33,"x":0.427,"y":0.291,"h":0.522},{"g":5,"z":-0.33,"x":0.5,"y":0.291,"h":0.516},{"g":5,"z":-0.33,"x":0.573,"y":0.291,"h":0.522},{"g":5,"z":-0.33,"x":0.645,"y":0.291,"h":0.53},{"g":5,"z":-0.33,"x":0.699,"y":0.286,"h":0.549},{"g":5,"z":-0.33,"x":0.753,"y":0.277,"h":0.568},{"g":5,"z":-0.33,"x":0.789,"y":0.275,"h":0.575},{"g":5,"z":-0.33,"x":0.832,"y":0.293,"h":0.568},{"g":5,"z":-0.33,"x":0.865,"y":0.326,"h":0.548},{"g":5,"z":-0.33,"x":0.88,"y":0.365,"h":0.526},{"g":5,"z":-0.33,"x":0.894,"y":0.401,"h":0.487},{"g":5,"z":-0.33,"x":0.898,"y":0.45,"h":0.45},
{"g":6,"z":-0.39,"x":0.122,"y":0.45,"h":0.45},{"g":6,"z":-0.39,"x":0.126,"y":0.411,"h":0.481},{"g":6,"z":-0.39,"x":0.146,"y":0.367,"h":0.52},{"g":6,"z":-0.39,"x":0.171,"y":0.333,"h":0.541},{"g":6,"z":-0.39,"x":0.207,"y":0.311,"h":0.553},{"g":6,"z":-0.39,"x":0.24,"y":0.304,"h":0.554},{"g":6,"z":-0.39,"x":0.286,"y":0.308,"h":0.533},{"g":6,"z":-0.39,"x":0.323,"y":0.311,"h":0.517},{"g":6,"z":-0.39,"x":0.388,"y":0.315,"h":0.502},{"g":6,"z":-0.39,"x":0.5,"y":0.314,"h":0.492},{"g":6,"z":-0.39,"x":0.612,"y":0.315,"h":0.502},{"g":6,"z":-0.39,"x":0.677,"y":0.311,"h":0.517},{"g":6,"z":-0.39,"x":0.714,"y":0.308,"h":0.533},{"g":6,"z":-0.39,"x":0.76,"y":0.304,"h":0.554},{"g":6,"z":-0.39,"x":0.793,"y":0.311,"h":0.553},{"g":6,"z":-0.39,"x":0.829,"y":0.333,"h":0.541},{"g":6,"z":-0.39,"x":0.854,"y":0.367,"h":0.52},{"g":6,"z":-0.39,"x":0.874,"y":0.411,"h":0.481},{"g":6,"z":-0.39,"x":0.878,"y":0.45,"h":0.45},
{"g":7,"z":-0.45,"x":0.144,"y":0.45,"h":0.45},{"g":7,"z":-0.45,"x":0.151,"y":0.409,"h":0.491},{"g":7,"z":-0.45,"x":0.186,"y":0.363,"h":0.53},{"g":7,"z":-0.45,"x":0.222,"y":0.338,"h":0.537},{"g":7,"z":-0.45,"x":0.258,"y":0.331,"h":0.527},{"g":7,"z":-0.45,"x":0.316,"y":0.34,"h":0.494},{"g":7,"z":-0.45,"x":0.352,"y":0.343,"h":0.479},{"g":7,"z":-0.45,"x":0.424,"y":0.345,"h":0.464},{"g":7,"z":-0.45,"x":0.5,"y":0.344,"h":0.457},{"g":7,"z":-0.45,"x":0.576,"y":0.345,"h":0.464},{"g":7,"z":-0.45,"x":0.648,"y":0.343,"h":0.479},{"g":7,"z":-0.45,"x":0.684,"y":0.34,"h":0.494},{"g":7,"z":-0.45,"x":0.742,"y":0.331,"h":0.527},{"g":7,"z":-0.45,"x":0.778,"y":0.338,"h":0.537},{"g":7,"z":-0.45,"x":0.814,"y":0.363,"h":0.53},{"g":7,"z":-0.45,"x":0.849,"y":0.409,"h":0.491},{"g":7,"z":-0.45,"x":0.856,"y":0.45,"h":0.45},
{"g":8,"z":-0.51,"x":0.171,"y":0.45,"h":0.45},{"g":8,"z":-0.51,"x":0.182,"y":0.41,"h":0.488},{"g":8,"z":-0.51,"x":0.204,"y":0.381,"h":0.503},{"g":8,"z":-0.51,"x":0.224,"y":0.366,"h":0.508},{"g":8,"z":-0.51,"x":0.244,"y":0.362,"h":0.503},{"g":8,"z":-0.51,"x":0.262,"y":0.362,"h":0.491},{"g":8,"z":-0.51,"x":0.28,"y":0.365,"h":0.469},{"g":8,"z":-0.51,"x":0.296,"y":0.369,"h":0.459},{"g":8,"z":-0.51,"x":0.314,"y":0.383,"h":0.45},{"g":8,"z":-0.51,"x":0.332,"y":0.396,"h":0.423},{"g":8,"z":-0.51,"x":0.352,"y":0.408,"h":0.408},
{"g":9,"z":-0.51,"x":0.645,"y":0.408,"h":0.408},{"g":9,"z":-0.51,"x":0.674,"y":0.389,"h":0.433},{"g":9,"z":-0.51,"x":0.685,"y":0.382,"h":0.448},{"g":9,"z":-0.51,"x":0.707,"y":0.368,"h":0.459},{"g":9,"z":-0.51,"x":0.714,"y":0.366,"h":0.465},{"g":9,"z":-0.51,"x":0.743,"y":0.36,"h":0.491},{"g":9,"z":-0.51,"x":0.757,"y":0.36,"h":0.502},{"g":9,"z":-0.51,"x":0.779,"y":0.365,"h":0.507},{"g":9,"z":-0.51,"x":0.797,"y":0.378,"h":0.5},{"g":9,"z":-0.51,"x":0.817,"y":0.4,"h":0.489},{"g":9,"z":-0.51,"x":0.82,"y":0.407,"h":0.485},{"g":9,"z":-0.51,"x":0.829,"y":0.448,"h":0.448},
{"g":10,"z":-0.57,"x":0.221,"y":0.451,"h":0.451},{"g":10,"z":-0.57,"x":0.226,"y":0.435,"h":0.455},{"g":10,"z":-0.57,"x":0.245,"y":0.447,"h":0.447},
{"g":11,"z":-0.57,"x":0.752,"y":0.436,"h":0.44},{"g":11,"z":-0.57,"x":0.755,"y":0.425,"h":0.451},{"g":11,"z":-0.57,"x":0.757,"y":0.411,"h":0.452},{"g":11,"z":-0.57,"x":0.775,"y":0.43,"h":0.454},{"g":11,"z":-0.57,"x":0.782,"y":0.448,"h":0.448},
{"g":12,"z":-0.15,"x":0.244,"y":0.162,"h":0.162},{"g":12,"z":-0.15,"x":0.262,"y":0.145,"h":0.203},{"g":12,"z":-0.15,"x":0.272,"y":0.135,"h":0.21},{"g":12,"z":-0.15,"x":0.319,"y":0.111,"h":0.241},{"g":12,"z":-0.15,"x":0.355,"y":0.098,"h":0.25},{"g":12,"z":-0.15,"x":0.409,"y":0.088,"h":0.258},{"g":12,"z":-0.15,"x":0.5,"y":0.082,"h":0.262},{"g":12,"z":-0.15,"x":0.591,"y":0.088,"h":0.258},{"g":12,"z":-0.15,"x":0.645,"y":0.098,"h":0.25},{"g":12,"z":-0.15,"x":0.681,"y":0.111,"h":0.241},{"g":12,"z":-0.15,"x":0.728,"y":0.135,"h":0.21},{"g":12,"z":-0.15,"x":0.738,"y":0.145,"h":0.203},{"g":12,"z":-0.15,"x":0.751,"y":0.162,"h":0.162},
{"g":13,"z":-0.09,"x":0.326,"y":0.18,"h":0.2},{"g":13,"z":-0.09,"x":0.328,"y":0.16,"h":0.205},{"g":13,"z":-0.09,"x":0.355,"y":0.138,"h":0.219},{"g":13,"z":-0.09,"x":0.391,"y":0.124,"h":0.243},{"g":13,"z":-0.09,"x":0.446,"y":0.111,"h":0.247},{"g":13,"z":-0.09,"x":0.5,"y":0.107,"h":0.248},{"g":13,"z":-0.09,"x":0.554,"y":0.111,"h":0.247},{"g":13,"z":-0.09,"x":0.609,"y":0.124,"h":0.243},{"g":13,"z":-0.09,"x":0.645,"y":0.138,"h":0.219},{"g":13,"z":-0.09,"x":0.672,"y":0.16,"h":0.205},{"g":13,"z":-0.09,"x":0.674,"y":0.18,"h":0.2},
{"g":14,"z":-0.03,"x":0.379,"y":0.201,"h":0.201},{"g":14,"z":-0.03,"x":0.39,"y":0.16,"h":0.208},{"g":14,"z":-0.03,"x":0.406,"y":0.152,"h":0.216},{"g":14,"z":-0.03,"x":0.427,"y":0.144,"h":0.221},{"g":14,"z":-0.03,"x":0.446,"y":0.14,"h":0.225},{"g":14,"z":-0.03,"x":0.5,"y":0.133,"h":0.229},{"g":14,"z":-0.03,"x":0.554,"y":0.14,"h":0.225},{"g":14,"z":-0.03,"x":0.573,"y":0.144,"h":0.221},{"g":14,"z":-0.03,"x":0.594,"y":0.152,"h":0.216},{"g":14,"z":-0.03,"x":0.61,"y":0.16,"h":0.208},{"g":14,"z":-0.03,"x":0.621,"y":0.201,"h":0.201},
{"g":15,"z":0.03,"x":0.449,"y":0.201,"h":0.201},{"g":15,"z":0.03,"x":0.467,"y":0.181,"h":0.204},{"g":15,"z":0.03,"x":0.474,"y":0.177,"h":0.205},{"g":15,"z":0.03,"x":0.485,"y":0.173,"h":0.205},{"g":15,"z":0.03,"x":0.5,"y":0.171,"h":0.206},{"g":15,"z":0.03,"x":0.515,"y":0.173,"h":0.205},{"g":15,"z":0.03,"x":0.526,"y":0.177,"h":0.205},{"g":15,"z":0.03,"x":0.533,"y":0.181,"h":0.204},{"g":15,"z":0.03,"x":0.551,"y":0.201,"h":0.201}
]},"mark":{"type":"area","interpolate":"linear"},"encoding":{"x":{"field":"x","type":"quantitative","scale":{"domain":[0,1],"nice":false,"zero":false}},"y":{"field":"y","type":"quantitative","stack":null,"scale":{"domain":[0,2],"nice":false,"zero":false}},"y2":{"field":"h"},"detail":{"field":"g","type":"nominal"},"color":{"field":"z","type":"quantitative","scale":{"scheme":"viridis","domain":[-0.6,1.8]},"legend":null}}},
{"data":{"values":[{"x":0,"xe":1,"y":0,"h":2}]},"mark":{"type":"rect","fill":null,"stroke":"black","strokeWidth":5.33},"encoding":{"x":{"field":"x","type":"quantitative"},"x2":{"field":"xe"},"y":{"field":"y","type":"quantitative"},"y2":{"field":"h"}}}
]},
{"width":91,"height":1848,"layer":[{"data":{"values":[{"lo":-0.6,"hi":-0.54,"z":-0.57},{"lo":-0.54,"hi":-0.48,"z":-0.51},{"lo":-0.48,"hi":-0.42,"z":-0.45},{"lo":-0.42,"hi":-0.36,"z":-0.39},{"lo":-0.36,"hi":-0.3,"z":-0.33},{"lo":-0.3,"hi":-0.24,"z":-0.27},{"lo":-0.24,"hi":-0.18,"z":-0.21},{"lo":-0.18,"hi":-0.12,"z":-0.15},{"lo":-0.12,"hi":-0.06,"z":-0.09},{"lo":-0.06,"hi":0,"z":-0.03},{"lo":0,"hi":0.06,"z":0.03},{"lo":0.06,"hi":0.12,"z":0.09},{"lo":0.12,"hi":0.18,"z":0.15},{"lo":0.18,"hi":0.24,"z":0.21},{"lo":0.24,"hi":0.3,"z":0.27},{"lo":0.3,"hi":0.36,"z":0.33},{"lo":0.36,"hi":0.42,"z":0.39},{"lo":0.42,"hi":0.48,"z":0.45},{"lo":0.48,"hi":0.54,"z":0.51},{"lo":0.54,"hi":0.6,"z":0.57},{"lo":0.6,"hi":0.66,"z":0.63},{"lo":0.66,"hi":0.72,"z":0.69},{"lo":0.72,"hi":0.78,"z":0.75},{"lo":0.78,"hi":0.84,"z":0.81},{"lo":0.84,"hi":0.9,"z":0.87},{"lo":0.9,"hi":0.96,"z":0.93},{"lo":0.96,"hi":1.02,"z":0.99},{"lo":1.02,"hi":1.08,"z":1.05},{"lo":1.08,"hi":1.14,"z":1.11},{"lo":1.14,"hi":1.2,"z":1.17},{"lo":1.2,"hi":1.26,"z":1.23},{"lo":1.26,"hi":1.32,"z":1.29},{"lo":1.32,"hi":1.38,"z":1.35},{"lo":1.38,"hi":1.44,"z":1.41},{"lo":1.44,"hi":1.5,"z":1.47},{"lo":1.5,"hi":1.56,"z":1.53},{"lo":1.56,"hi":1.62,"z":1.59},{"lo":1.62,"hi":1.68,"z":1.65},{"lo":1.68,"hi":1.74,"z":1.71},{"lo":1.74,"hi":1.8,"z":1.77}]},"mark":{"type":"rect","strokeWidth":1},"encoding":{"y":{"field":"lo","type":"quantitative","scale":{"domain":[-0.6,1.8],"nice":false,"zero":false},"axis":{"orient":"right","values":[-0.6,-0.3,0,0.3,0.6,0.9,1.2,1.5,1.8],"format":".1f","title":null,"domain":false,"labelOffset":4}},"y2":{"field":"hi"},"color":{"field":"z","type":"quantitative","scale":{"scheme":"viridis","domain":[-0.6,1.8]},"legend":null},"stroke":{"field":"z","type":"quantitative","scale":{"scheme":"viridis","domain":[-0.6,1.8]},"legend":null}}},
{"data":{"values":[{"lo":-0.6,"hi":1.8}]},"mark":{"type":"rect","fill":null,"stroke":"black","strokeWidth":5.33},"encoding":{"y":{"field":"lo","type":"quantitative"},"y2":{"field":"hi"}}}
]}
]}
